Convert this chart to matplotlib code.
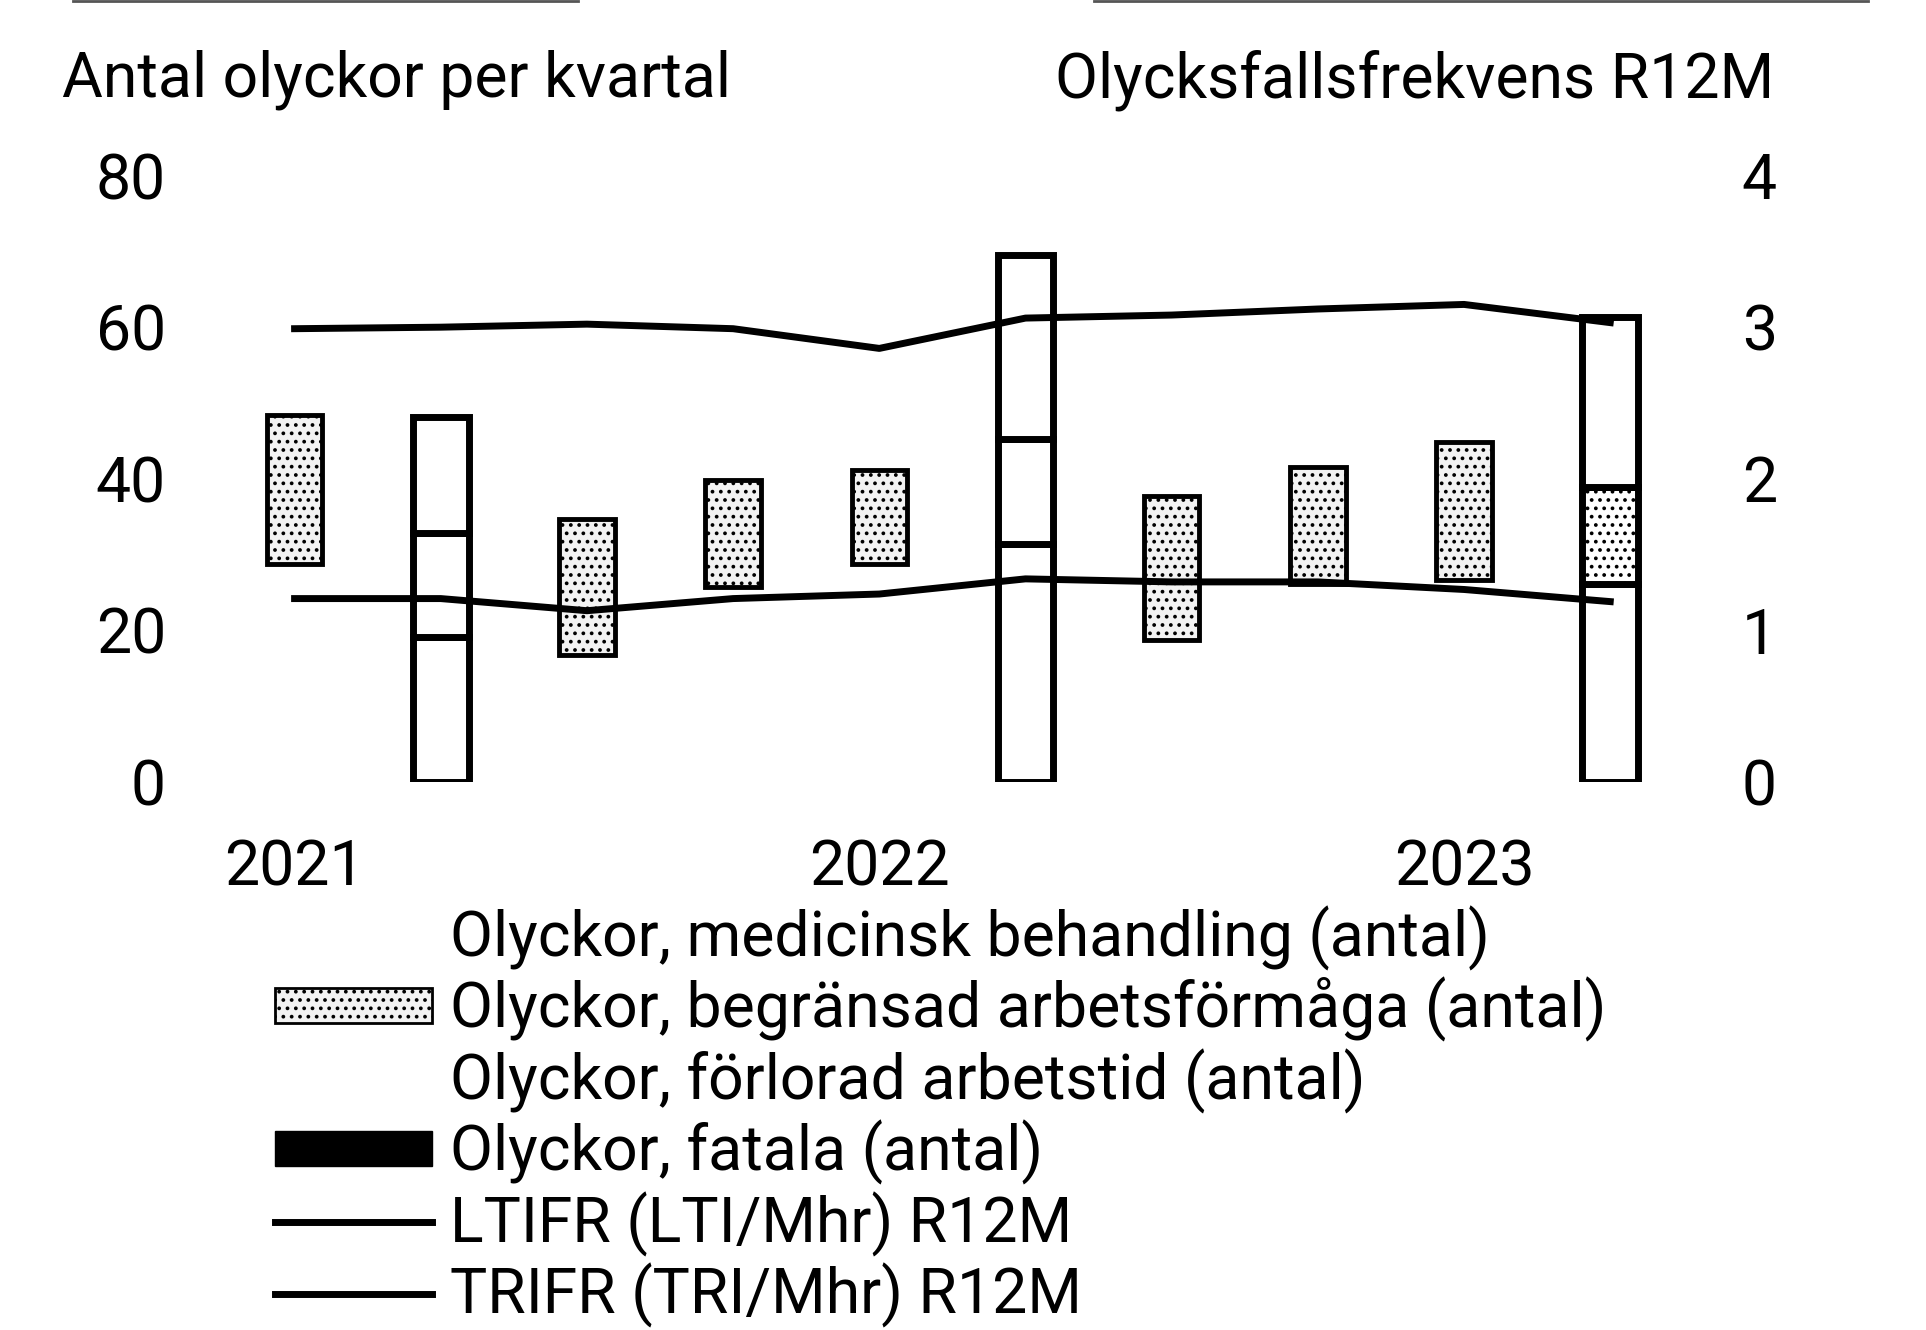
import matplotlib as mpl
import matplotlib.pyplot as plt
from matplotlib.lines import Line2D
from matplotlib.patches import Patch
import numpy as np

plt.rcParams['font.family'] = ['Roboto', 'DejaVu Sans']
plt.rcParams['hatch.linewidth'] = 1.5

quarters = ['2021 Q1', '2021 Q2', '2021 Q3', '2021 Q4',
            '2022 Q1', '2022 Q2', '2022 Q3', '2022 Q4',
            '2023 Q1', '2023 Q2']

# antal olyckor per kvartal (stacked, bottom -> top)
forlorad = [28.7, 19.1, 16.8, 25.7, 28.7, 31.4, 18.8, 26.1, 26.7, 26.1]
begransad = [19.7, 13.8, 17.9, 14.1, 12.4, 13.9, 18.9, 15.5, 18.2, 12.8]
medicinsk = [0, 15.3, 0, 0, 0, 24.2, 0, 0, 0, 22.5]
fatala = [0, 0, 0, 0, 0, 0, 0, 0, 0, 0]

# R12M frekvenser (höger axel)
ltifr = [1.21, 1.21, 1.13, 1.21, 1.24, 1.34, 1.32, 1.32, 1.27, 1.19]
trifr = [2.99, 3.00, 3.02, 2.99, 2.86, 3.06, 3.08, 3.12, 3.15, 3.03]

# kvartal som är inramade i originalet
framed = [False, True, False, False, False, True, False, False, False, True]

year_labels = [q[:4] for q in quarters]
tick_idx = [i for i, q in enumerate(quarters) if q.endswith('Q1')]

FS = 45

fig = plt.figure(figsize=(19.26, 13.30), dpi=100)
ax = fig.add_axes([0.115, 0.412, 0.759, 0.456])
ax2 = ax.twinx()

x = np.arange(len(quarters))
w = 0.38

f_arr = np.array(forlorad)
b_arr = np.array(begransad)
m_arr = np.array(medicinsk)

edge_f = ['black' if fr else 'none' for fr in framed]
lw_f = [5 if fr else 0 for fr in framed]

bars_f = ax.bar(x, forlorad, w, color='white', edgecolor=edge_f, linewidth=lw_f,
                label='Olyckor, förlorad arbetstid (antal)')
bars_b = ax.bar(x, begransad, w, bottom=f_arr, color='#f2f2f2', edgecolor='black',
                linewidth=[5 if fr else 3.5 for fr in framed], hatch='..',
                label='Olyckor, begränsad arbetsförmåga (antal)')
# inramade kvartal: nästan inget mönster
for p, fr, q in zip(bars_b, framed, quarters):
    if fr:
        p.set_facecolor('white')
        if q != '2023 Q2':
            p.set_hatch(None)
bars_m = ax.bar(x, medicinsk, w, bottom=f_arr + b_arr, color='white', edgecolor=edge_f,
                linewidth=lw_f, label='Olyckor, medicinsk behandling (antal)')
bars_x = ax.bar(x, fatala, w, bottom=f_arr + b_arr + m_arr, color='black',
                label='Olyckor, fatala (antal)')

ln_l, = ax2.plot(x, ltifr, color='black', lw=5, label='LTIFR (LTI/Mhr) R12M')
ln_t, = ax2.plot(x, trifr, color='black', lw=5, label='TRIFR (TRI/Mhr) R12M')

ax.set_xlim(-0.5, 9.5)
ax.set_ylim(0, 80)
ax.set_yticks([0, 20, 40, 60, 80])
ax2.set_ylim(0, 4)
ax2.set_yticks([0, 1, 2, 3, 4])
ax.set_xticks(tick_idx)
ax.set_xticklabels([year_labels[i] for i in tick_idx])

for a in (ax, ax2):
    for s in a.spines.values():
        s.set_visible(False)
ax.tick_params(axis='y', length=0, labelsize=FS, pad=40)
ax.tick_params(axis='x', length=0, labelsize=FS, pad=41)
ax2.tick_params(axis='y', length=0, labelsize=FS, pad=42)

fig.text(0.032, 0.94, 'Antal olyckor per kvartal', fontsize=FS, va='center', ha='left')
fig.text(0.921, 0.94, 'Olycksfallsfrekvens R12M', fontsize=FS, va='center', ha='right')

# fragment av föregående diagram högst upp
fig.add_artist(Line2D([0.038, 0.30], [0.999, 0.999], color='#555555', lw=2))
fig.add_artist(Line2D([0.568, 0.97], [0.999, 0.999], color='#555555', lw=2))

handles = [
    Patch(facecolor='white', edgecolor='none'),
    Patch(facecolor='#f2f2f2', edgecolor='black', hatch='..', linewidth=2),
    Patch(facecolor='white', edgecolor='none'),
    Patch(facecolor='black', edgecolor='black'),
    ln_l, ln_t,
]
labels = [bars_m.get_label(), bars_b.get_label(), bars_f.get_label(),
          bars_x.get_label(), ln_l.get_label(), ln_t.get_label()]
fig.legend(handles, labels, loc='upper left', bbox_to_anchor=(0.143, 0.319),
           frameon=False, fontsize=FS, handlelength=2.5, handleheight=0.5,
           handletextpad=0.3, labelspacing=0.1, borderpad=0, borderaxespad=0)

fig.savefig('out.png', dpi=100)
